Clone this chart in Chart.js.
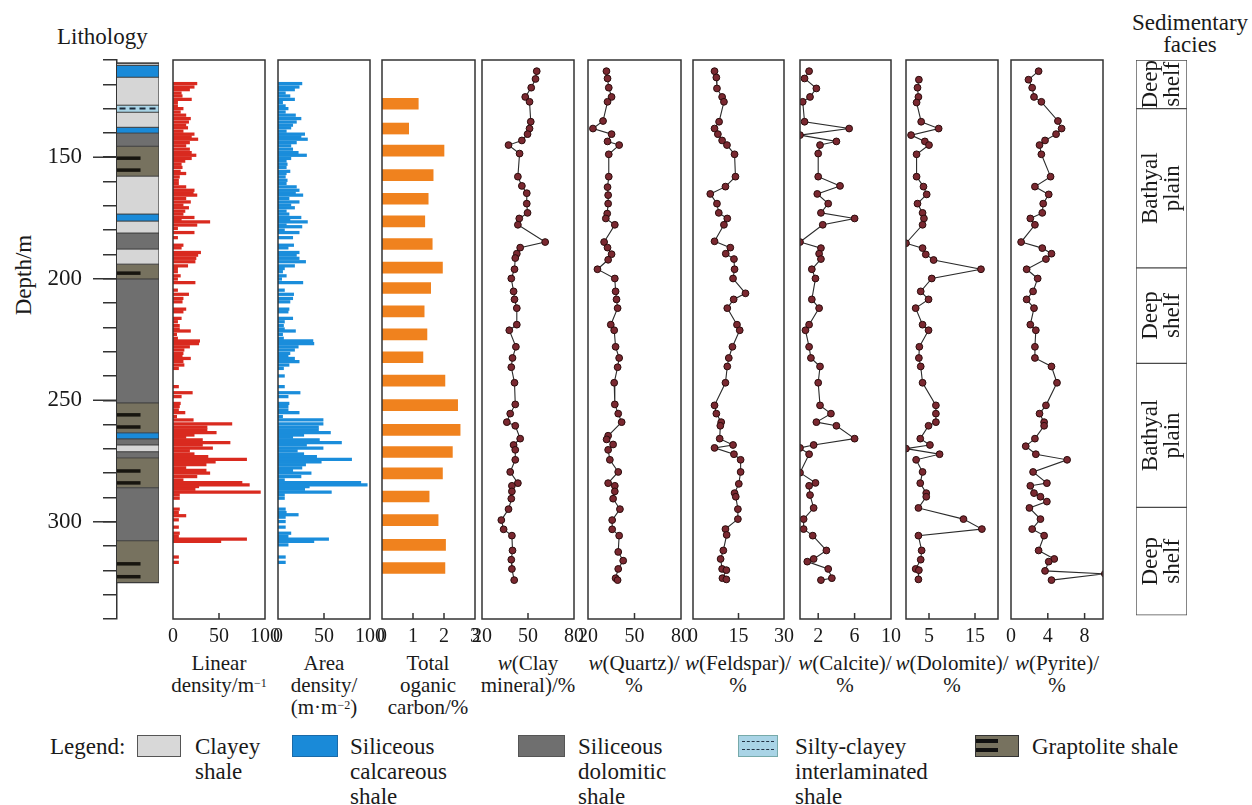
<!DOCTYPE html>
<html><head><meta charset="utf-8">
<script src="https://cdn.jsdelivr.net/npm/chart.js@4.4.1/dist/chart.umd.min.js"></script>
<style>
body{margin:0;width:1252px;height:805px;background:#fff;position:relative;overflow:hidden;font-family:'Liberation Serif','Times New Roman',serif;color:#1a1a1a;}
.t{position:absolute;white-space:nowrap;}
.ax{position:absolute;top:652px;width:160px;text-align:center;font-size:21px;line-height:22px;white-space:nowrap;}
.lg{position:absolute;top:734px;font-size:23px;line-height:25px;white-space:nowrap;}
.sw{position:absolute;top:735px;height:22px;border:1px solid #555;box-sizing:border-box;}
sup{font-size:12px;vertical-align:top;position:relative;top:-2px;}
</style></head><body>

<div class="t" style="left:57px;top:24px;font-size:23px;">Lithology</div>
<div class="t" style="left:-26px;top:262px;width:100px;text-align:center;font-size:23px;transform:rotate(-90deg);">Depth/m</div>
<div class="t" style="left:1110px;top:12px;width:160px;text-align:center;font-size:23px;line-height:22px;">Sedimentary<br>facies</div>

<div class="ax" style="left:139px;">Linear<br>density/m<sup>−1</sup></div>
<div class="ax" style="left:244px;">Area<br>density/<br>(m·m<sup>−2</sup>)</div>
<div class="ax" style="left:348px;">Total<br>oganic<br>carbon/%</div>
<div class="ax" style="left:448px;"><i>w</i>(Clay<br>mineral)/%</div>
<div class="ax" style="left:554px;"><i>w</i>(Quartz)/<br>%</div>
<div class="ax" style="left:658px;"><i>w</i>(Feldspar)/<br>%</div>
<div class="ax" style="left:765px;"><i>w</i>(Calcite)/<br>%</div>
<div class="ax" style="left:872px;"><i>w</i>(Dolomite)/<br>%</div>
<div class="ax" style="left:977px;"><i>w</i>(Pyrite)/<br>%</div>

<div class="lg" style="left:50px;">Legend:</div>
<div class="sw" style="left:137px;width:44px;background:#d8d8d8;"></div>
<div class="lg" style="left:195px;">Clayey<br>shale</div>
<div class="sw" style="left:292px;width:46px;background:#1a8ad8;border-color:#1a6aa8;"></div>
<div class="lg" style="left:350px;">Siliceous<br>calcareous<br>shale</div>
<div class="sw" style="left:518px;width:47px;background:#6f6f6f;"></div>
<div class="lg" style="left:578px;">Siliceous<br>dolomitic<br>shale</div>
<div class="sw" style="left:738px;width:40px;background:#a9d4e6;border-color:#7aa;">
  <div style="position:absolute;left:3px;right:3px;top:5px;border-top:1.5px dashed #234;"></div>
  <div style="position:absolute;left:3px;right:3px;top:13px;border-top:1.5px dashed #234;"></div>
</div>
<div class="lg" style="left:795px;">Silty-clayey<br>interlaminated<br>shale</div>
<div class="sw" style="left:975px;width:44px;background:#77725f;border-color:#333;">
  <div style="position:absolute;left:0;width:22px;top:3px;height:4px;background:#111;"></div>
  <div style="position:absolute;left:0;width:22px;top:12px;height:4px;background:#111;"></div>
</div>
<div class="lg" style="left:1032px;">Graptolite shale</div>

<script>
// ================= DATA =================
const depthTicks = [110,120,130,140,150,160,170,180,190,200,210,220,230,240,250,260,270,280,290,300,310,320,330,340];
const depthLabels = [150,200,250,300];

const lithTop    = [111.3,112.2,117.1,128.6,131.5,137.7,140.1,145.5,157.8,173.4,176.3,181.2,187.8,194.0,200.1,251.1,263.4,265.9,268.4,271.2,273.7,286.0,307.8];
const lithBottom = [112.2,117.1,128.6,131.5,137.7,140.1,145.5,157.8,173.4,176.3,181.2,187.8,194.0,200.1,251.1,263.4,265.9,268.4,271.2,273.7,286.0,307.8,325.0];
const lithType   = ['clayey','calcareous','clayey','silty','clayey','calcareous','dolomitic','graptolite','clayey','calcareous','clayey','dolomitic','clayey','graptolite','dolomitic','graptolite','calcareous','dolomitic','clayey','dolomitic','graptolite','dolomitic','graptolite'];
const graptoliteMarks = [150.4,155.3,197.7,256.0,261.0,279.1,284.0,317.3,322.6];
const siltyDashes = [130.0];

const faciesTop    = [110,130,195.5,234.8,294.1];
const faciesBottom = [130,195.5,234.8,294.1,338.4];
const faciesName   = [['Deep','shelf'],['Bathyal','plain'],['Deep','shelf'],['Bathyal','plain'],['Deep','shelf']];

const linDepth = [119.7,121.1,122.2,123.6,124.8,126.2,127.5,128.9,130.0,131.4,132.7,134.1,135.5,136.8,137.9,139.3,140.5,141.6,142.6,144.0,145.3,146.7,148.1,149.2,150.5,151.6,152.9,154.2,155.8,156.7,158.1,159.5,160.8,162.2,163.6,164.7,165.6,167.0,168.4,169.7,170.8,172.2,173.4,174.8,175.9,176.6,177.9,179.3,181.0,183.1,186.2,187.3,189.2,190.3,191.6,193.0,194.7,195.8,197.1,198.8,200.1,201.6,204.7,206.4,208.1,209.5,212.5,213.6,216.3,217.7,219.3,220.7,221.5,222.9,224.5,225.6,226.7,228.0,229.3,230.7,231.8,232.8,234.1,235.5,236.9,244.4,246.9,248.5,251.3,252.6,254.0,255.1,256.7,258.1,259.7,261.1,262.2,263.3,264.3,265.2,266.3,267.4,268.4,269.7,270.8,272.1,273.2,274.3,275.4,276.5,277.8,278.9,280.0,281.4,282.8,283.9,284.8,285.5,286.6,287.8,288.9,290.3,294.8,296.2,297.5,299.2,302.2,304.7,306.0,307.1,308.1,314.5,316.7];
const linVal   = [26,23,18,9,10,20,5,5,11,8,14,19,17,14,16,11,23,20,27,18,14,18,20,25,20,13,9,10,8,14,7,6,6,14,23,22,26,14,19,11,17,13,11,23,9,40,26,5,23,5,11,9,30,27,25,24,16,5,5,8,5,24,5,17,11,10,14,11,9,5,7,7,19,4,5,29,28,18,12,11,10,19,11,12,6,6,21,9,8,7,6,13,4,22,64,37,37,47,23,14,32,62,32,43,18,23,38,80,46,36,14,36,40,26,11,75,83,28,24,95,7,7,7,6,14,6,6,7,6,80,52,6,6];

const areaDepth = [119.7,121.1,122.2,123.6,124.8,126.2,127.5,128.9,130.0,131.4,132.7,134.1,135.5,136.8,137.9,139.3,140.5,141.6,142.6,144.0,145.3,146.7,148.1,149.2,150.5,151.6,152.9,154.2,155.8,156.7,158.1,159.5,160.8,162.2,163.6,164.7,165.6,167.0,168.4,169.7,170.8,172.2,173.4,174.8,175.9,176.6,177.9,178.6,180.0,181.0,183.1,186.2,187.3,189.2,190.3,191.6,193.0,194.7,195.8,197.1,198.8,200.1,201.6,204.7,206.4,208.1,209.5,212.5,213.6,216.3,217.7,219.3,220.7,221.5,222.9,224.5,225.6,226.7,228.0,229.3,230.7,231.8,232.8,234.1,235.5,236.9,240.0,244.4,246.9,248.5,251.3,252.6,254.0,255.1,256.7,258.1,259.7,261.1,262.2,263.3,264.3,265.2,266.3,267.4,268.4,269.7,270.8,272.1,273.2,274.3,275.4,276.5,277.8,278.9,280.0,281.4,282.8,283.9,284.8,285.5,286.6,287.8,288.9,290.3,294.8,296.2,297.1,298.1,299.9,302.2,304.7,306.0,307.1,308.1,309.5,314.5,316.7];
const areaVal   = [26,23,18,8,13,18,5,8,11,8,19,25,20,16,14,9,29,25,32,20,14,16,22,31,14,9,10,9,13,9,8,10,9,20,23,19,27,12,23,14,18,9,12,25,13,32,9,26,7,23,16,17,11,23,20,23,30,18,7,5,9,4,27,7,17,16,13,12,11,16,7,6,7,19,5,6,38,39,22,18,13,11,18,23,12,6,7,7,24,11,12,11,11,23,5,49,49,44,44,57,28,16,45,69,31,49,21,28,42,80,47,30,26,16,36,25,7,90,97,34,29,58,7,7,8,9,22,8,8,8,14,11,55,39,11,8,8];

const tocDepth = [128.0,138.2,147.3,157.4,167.1,176.4,185.7,195.4,203.8,213.4,222.9,232.3,241.9,252.0,262.2,271.3,280.1,289.6,299.3,309.5,319.0];
const tocVal   = [1.17,0.86,2.0,1.65,1.49,1.38,1.62,1.95,1.57,1.36,1.45,1.32,2.03,2.44,2.52,2.27,1.95,1.52,1.81,2.05,2.03];

const clayDepth = [114.6,117.8,121.4,125.2,127.2,135.4,138.2,140.5,143.1,145.0,148.5,158.0,161.8,164.8,169.1,172.9,175.2,177.8,184.9,187.2,189.7,191.5,196.1,199.9,205.2,208.5,212.1,218.9,221.2,228.0,232.6,236.4,242.8,251.7,255.5,259.0,260.5,265.8,268.4,270.4,274.5,279.5,284.1,285.2,287.5,290.5,294.8,299.3,303.1,305.7,311.8,315.6,319.4,324.0];
const clayVal   = [55.7,54.9,52.1,48.2,51.0,51.8,51.0,49.7,46.0,37.3,44.5,43.4,46.0,49.2,49.2,49.7,44.3,43.4,61.2,44.9,42.7,41.7,41.2,39.1,40.6,41.2,42.7,42.7,37.8,42.1,39.9,39.1,41.2,41.7,38.4,36.2,41.7,44.9,40.6,41.7,41.7,38.4,43.4,39.5,39.5,39.1,37.3,32.6,34.1,39.5,39.9,39.1,39.5,41.0];

const quartzDepth = [114.6,117.6,121.4,125.2,127.2,135.1,138.2,140.5,143.5,145.0,148.8,158.0,162.3,165.6,169.1,173.2,175.2,177.8,184.9,187.2,189.9,192.2,196.1,199.9,205.2,208.5,212.1,218.9,221.2,228.0,232.6,236.4,242.8,251.7,255.5,259.0,264.6,266.1,268.2,270.4,274.5,279.5,284.1,285.2,287.5,290.5,294.8,299.3,303.1,305.7,312.4,316.0,319.4,323.2,324.0];
const quartzVal   = [31.9,32.6,33.4,35.2,32.6,29.7,23.2,35.2,32.6,40.1,33.4,33.4,32.6,33.0,33.0,32.4,31.5,37.3,30.4,32.6,35.2,33.0,26.1,37.3,37.8,38.4,39.1,34.7,36.9,37.8,40.1,39.1,36.9,37.3,39.5,41.7,33.0,32.0,36.2,33.0,34.1,39.5,33.0,37.3,37.3,36.2,40.6,35.6,35.6,40.1,39.5,42.7,39.5,37.8,39.1];

const feldDepth = [114.6,117.2,121.7,125.2,127.2,135.4,138.2,140.5,143.1,145.0,148.8,158.0,162.1,165.1,169.1,172.9,175.2,177.8,184.6,187.2,189.7,191.9,196.1,199.9,206.0,208.5,212.1,218.9,221.2,228.0,232.6,236.1,242.8,252.1,255.5,259.0,260.5,265.8,268.4,269.6,272.2,274.5,279.5,284.4,288.2,289.7,294.8,298.9,303.0,305.4,311.8,315.3,319.4,319.9,323.2,323.7];
const feldVal   = [7.1,7.7,7.9,9.6,10.2,8.6,7.1,8.2,9.6,11.2,13.7,14.0,10.7,5.7,7.9,8.5,11.3,10.2,7.1,12.3,10.8,13.5,13.7,13.2,17.3,13.4,11.3,14.5,15.4,13.0,11.8,11.3,10.7,7.1,7.7,9.3,9.0,8.8,13.2,7.1,13.5,15.7,15.7,15.1,13.7,14.1,14.8,14.8,10.7,11.1,10.0,9.1,9.6,11.0,9.7,11.0];

const calcDepth = [114.6,117.6,121.7,125.2,127.2,135.4,138.2,140.9,143.5,145.0,148.5,158.0,161.8,165.1,169.1,172.9,175.2,177.8,184.9,187.4,189.7,191.9,196.1,199.9,208.5,212.1,218.9,221.2,228.0,232.6,236.1,242.8,252.1,255.5,259.0,260.5,265.8,268.4,269.6,272.2,279.8,284.0,285.2,289.0,294.3,298.9,303.0,305.7,311.8,315.3,316.4,319.4,323.2,324.0];
const calcVal   = [1.0,0.5,1.8,1.1,0.3,0.5,5.4,0,4.0,2.2,2.0,2.0,4.4,1.9,3.1,2.3,6.0,2.5,0,2.3,2.1,2.3,1.3,1.7,1.3,2.1,1.0,0.6,1.0,1.2,2.2,2.0,2.2,3.4,1.8,4.0,6.0,1.5,0,1.0,0,1.7,1.0,1.1,1.5,0.4,0.4,1.4,2.9,1.5,0.8,3.1,3.5,2.3];

const doloDepth = [118.1,121.4,125.2,127.5,135.4,138.2,140.9,143.5,145.0,148.8,158.0,162.1,165.3,169.1,172.9,175.2,177.8,185.4,187.4,190.0,192.3,196.1,199.9,205.2,208.5,212.1,218.9,221.2,228.0,232.6,236.1,242.8,252.1,255.5,259.0,260.5,265.8,268.4,269.9,272.2,274.5,279.5,284.1,288.2,289.7,294.3,298.9,303.0,305.7,311.8,315.6,319.4,319.9,323.7];
const doloVal   = [2.8,2.5,2.7,2.3,3.3,7.1,1.1,4.1,5.0,2.3,2.3,3.8,4.5,2.5,3.6,3.9,3.6,0,3.6,4.3,6.0,16.3,5.6,3.2,4.9,2.1,3.6,4.9,2.9,2.8,3.2,3.6,6.5,6.5,6.5,4.9,3.1,5.2,0,7.3,2.2,3.6,3.1,4.4,4.4,2.7,12.5,16.5,2.7,3.4,3.2,2.1,2.8,2.7];

const pyDepth = [114.6,118.1,121.4,125.2,127.2,135.1,138.2,140.5,143.1,145.0,148.8,158.0,162.1,165.3,169.1,172.9,175.2,177.8,184.9,187.4,189.7,191.9,196.1,199.9,205.2,208.5,212.1,218.9,221.2,228.0,232.6,236.1,242.8,252.1,255.5,259.0,260.5,265.8,268.9,272.2,274.5,279.5,284.1,285.2,288.2,289.7,291.7,294.3,298.9,303.0,305.7,311.8,315.3,316.4,320.2,321.4,324.0];
const pyVal   = [3.0,1.9,2.3,2.5,3.3,5.1,5.5,4.9,3.7,3.1,3.3,4.3,2.6,4.1,3.5,3.4,2.1,2.6,1.1,3.4,4.4,3.8,1.7,2.9,2.4,1.7,2.5,2.1,2.7,2.6,2.6,4.4,5.0,3.8,3.1,3.6,3.6,2.6,1.6,2.7,6.1,2.4,3.9,2.1,2.5,3.2,3.9,2.0,3.2,2.3,3.6,3.0,4.7,4.1,3.7,10.2,4.4];

// axis tick labels (x) per panel
const linTicks = [0,50,100], areaTicks = [0,50,100], tocTicks = [0,1,2,3];
const clayTicks = [20,50,80], quartzTicks = [20,50,80], feldTicks = [0,15,30];
const calcTicks = [2,6,10], doloTicks = [5,15], pyTicks = [0,4,8];

// ================= STYLE / LAYOUT =================
const FONT = "'Liberation Serif','Times New Roman',serif";
Chart.defaults.font.family = FONT;
Chart.defaults.color = '#1a1a1a';
const DMIN = 110, DMAX = 340;
const AREA_TOP = 60, AREA_BOTTOM = 619, XAX_H = 40;
const lithColors = {clayey:'#d6d6d6', calcareous:'#1a8ad8', dolomitic:'#6f6f6f', graptolite:'#77725f', silty:'#a9d4e6'};

function makeCanvas(left, top, w, h){
  const c = document.createElement('canvas');
  c.width = w; c.height = h;
  c.style.cssText = `position:absolute;left:${left}px;top:${top}px;width:${w}px;height:${h}px;`;
  document.body.appendChild(c);
  return c.getContext('2d');
}

const framePlugin = {
  id:'frame',
  afterDatasetsDraw(chart, args, opts){
    const {left,top,right,bottom} = chart.chartArea;
    const c = chart.ctx; c.save();
    c.strokeStyle = '#333'; c.lineWidth = 1.5;
    c.strokeRect(left, top, right-left, bottom-top);
    const xs = chart.scales.x;
    (opts.inner||[]).forEach(v=>{
      const p = xs.getPixelForValue(v);
      c.beginPath(); c.moveTo(p, bottom); c.lineTo(p, bottom-6); c.stroke();
    });
    c.restore();
  }
};

function panel(frameLeft, frameRight, type, datasets, xr, xTicks, inner, indexY){
  const w = frameRight - frameLeft;
  const ctx = makeCanvas(frameLeft-30, AREA_TOP-10, w+60, (AREA_BOTTOM-AREA_TOP)+10+XAX_H);
  return new Chart(ctx, {
    type, data:{datasets},
    options:{
      responsive:false, animation:false, devicePixelRatio:1,
      indexAxis: indexY ? 'y' : 'x',
      layout:{padding:{top:10,left:30,right:30,bottom:0}},
      scales:{
        x:{type:'linear', min:xr[0], max:xr[1], position:'bottom',
           afterBuildTicks:s=>{ s.ticks = xTicks.map(v=>({value:v})); },
           afterFit:s=>{ s.height = XAX_H; s.paddingLeft = 0; s.paddingRight = 0; },
           grid:{display:false, drawTicks:false}, border:{display:false},
           ticks:{autoSkip:false, maxRotation:0, minRotation:0, padding:6, font:{size:20}, color:'#1a1a1a'}},
        y:{type:'linear', reverse:true, min:DMIN, max:DMAX, display:false, offset:false}
      },
      plugins:{legend:{display:false}, tooltip:{enabled:false}, frame:{inner}}
    },
    plugins:[framePlugin]
  });
}

function barSet(depths, vals, color, thick){
  return {data: depths.map((d,i)=>({x:vals[i], y:d})), backgroundColor:color, borderWidth:0, barThickness:thick};
}
function lineSet(depths, vals){
  return {data: depths.map((d,i)=>({x:vals[i], y:d})), showLine:true, borderColor:'#2b2b2b', borderWidth:1.1,
          pointRadius:3.4, pointBackgroundColor:'#7a2830', pointBorderColor:'#2a0c0c', pointBorderWidth:1, tension:0};
}

// ================= LITHOLOGY COLUMN =================
(function(){
  const ctx = makeCanvas(0, AREA_TOP-10, 170, (AREA_BOTTOM-AREA_TOP)+20);
  const ds = [];
  // Chart.js paints higher "order" first, so layers get the highest order and marks the lowest.
  lithTop.forEach((t,i)=>{
    ds.push({data:[{x:0,y:t},{x:1,y:t}], fill:{value:lithBottom[i]}, backgroundColor:lithColors[lithType[i]],
             borderColor:'#3a3a3a', borderWidth:1, pointRadius:0, order:100-i});
  });
  const colTop = lithTop[0], colBot = lithBottom[lithBottom.length-1];
  ds.push({data:[{x:0,y:colTop},{x:1,y:colTop},{x:1,y:colBot},{x:0,y:colBot}], fill:false, borderColor:'#3a3a3a', borderWidth:1.2, pointRadius:0, order:5});
  siltyDashes.forEach(d=>ds.push({data:[{x:0.06,y:d},{x:0.94,y:d}], fill:false, borderColor:'#1c2a3a', borderWidth:2, borderDash:[6,4], pointRadius:0, order:2}));
  graptoliteMarks.forEach(d=>ds.push({data:[{x:0,y:d},{x:0.56,y:d}], fill:false, borderColor:'#17150f', borderWidth:3.5, pointRadius:0, order:1}));
  const majorTicks = {id:'majorTicks', afterDraw(chart){
    const s = chart.scales.y, c = chart.ctx; c.save(); c.strokeStyle='#333'; c.lineWidth=1.5;
    depthLabels.forEach(v=>{ const p = s.getPixelForValue(v); c.beginPath(); c.moveTo(s.right-24,p); c.lineTo(s.right,p); c.stroke(); });
    c.restore();
  }};
  new Chart(ctx, {
    type:'line', data:{datasets:ds},
    options:{
      responsive:false, animation:false, devicePixelRatio:1,
      layout:{padding:{top:10,bottom:10,left:0,right:11}},
      scales:{
        x:{type:'linear', min:0, max:1, display:false},
        y:{type:'linear', reverse:true, min:DMIN, max:DMAX, position:'left',
           afterBuildTicks:s=>{ s.ticks = depthTicks.map(v=>({value:v})); },
           afterFit:s=>{ s.width = 117; s.paddingTop = 0; s.paddingBottom = 0; },
           grid:{drawOnChartArea:false, drawTicks:true, tickLength:14, color:'#333', lineWidth:1.5},
           border:{display:true, color:'#333', width:1.5},
           ticks:{autoSkip:false, padding:21, font:{size:23}, color:'#1a1a1a',
                  callback:v=> depthLabels.includes(v) ? String(v) : ''}}
      },
      plugins:{legend:{display:false}, tooltip:{enabled:false}}
    },
    plugins:[majorTicks]
  });
})();

// ================= DATA PANELS =================
panel(173, 265, 'bar', [barSet(linDepth, linVal, '#d92a1f', 2.6)], [0,100], linTicks, [50], true);
panel(278, 370, 'bar', [barSet(areaDepth, areaVal, '#1a8ddb', 2.6)], [0,100], areaTicks, [50], true);
panel(382, 475, 'bar', [barSet(tocDepth, tocVal, '#f0821e', 11)], [0,3], tocTicks, [1,2], true);
panel(482, 574, 'scatter', [lineSet(clayDepth, clayVal)], [20,80], clayTicks, [50], false);
panel(588, 681, 'scatter', [lineSet(quartzDepth, quartzVal)], [20,80], quartzTicks, [50], false);
panel(693, 784, 'scatter', [lineSet(feldDepth, feldVal)], [0,30], feldTicks, [15], false);
panel(800, 891, 'scatter', [lineSet(calcDepth, calcVal)], [0,10], calcTicks, [2,6], false);
panel(906, 998, 'scatter', [lineSet(doloDepth, doloVal)], [0,20], doloTicks, [5,15], false);
panel(1011, 1103, 'scatter', [lineSet(pyDepth, pyVal)], [0,10], pyTicks, [4,8], false);

// ================= FACIES COLUMN =================
(function(){
  const ctx = makeCanvas(1120, AREA_TOP-10, 80, (AREA_BOTTOM-AREA_TOP)+20);
  const ds = faciesTop.map((t,i)=>({data:[[t, faciesBottom[i]]], grouped:false, backgroundColor:'#ffffff',
      borderColor:'#4a4a4a', borderWidth:1, borderSkipped:false, barPercentage:1, categoryPercentage:1}));
  const labels = {id:'faciesLabels', afterDatasetsDraw(chart){
    const c = chart.ctx;
    chart.data.datasets.forEach((d,i)=>{
      const el = chart.getDatasetMeta(i).data[0];
      const cx = el.x, cy = (el.y + el.base)/2;
      c.save(); c.translate(cx, cy); c.rotate(-Math.PI/2);
      c.font = "23px " + FONT; c.fillStyle = '#1a1a1a'; c.textAlign='center'; c.textBaseline='middle';
      c.fillText(faciesName[i][0], 0, -11); c.fillText(faciesName[i][1], 0, 11);
      c.restore();
    });
  }};
  new Chart(ctx, {
    type:'bar', data:{labels:['F'], datasets:ds},
    options:{
      responsive:false, animation:false, devicePixelRatio:1,
      layout:{padding:{top:10,bottom:10,left:16,right:13}},
      scales:{
        x:{display:false},
        y:{type:'linear', reverse:true, min:DMIN, max:DMAX, display:false}
      },
      plugins:{legend:{display:false}, tooltip:{enabled:false}}
    },
    plugins:[labels]
  });
})();
</script>
</body></html>
